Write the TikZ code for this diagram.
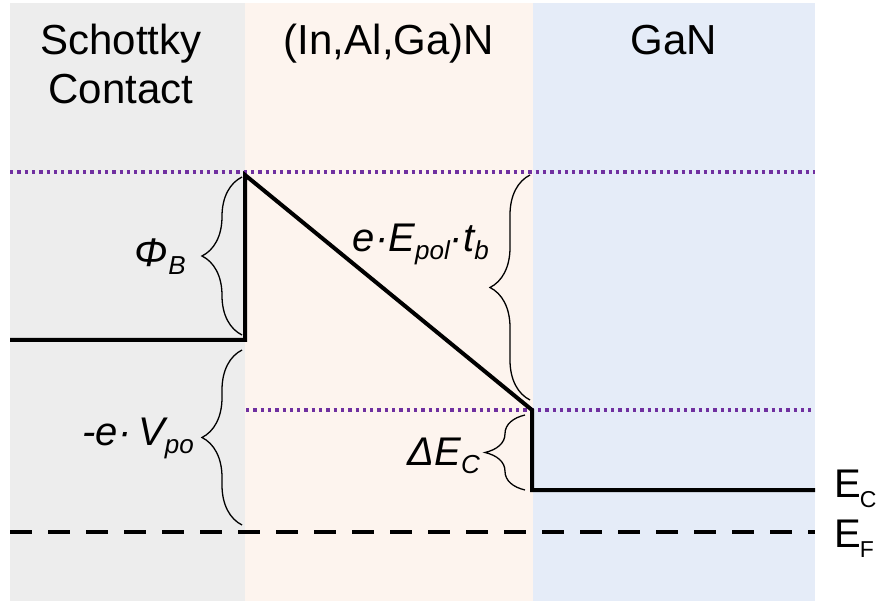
\documentclass[tikz,border=0pt]{standalone}
\usepackage{fontspec}
\setmainfont{Liberation Sans}
\usetikzlibrary{decorations.pathreplacing}
\definecolor{greyc}{HTML}{EDEDED}
\definecolor{peachc}{HTML}{FDF4EE}
\definecolor{bluec}{HTML}{E5ECF8}
\definecolor{purplec}{HTML}{7030A0}
\newcommand\lsub[1]{\raisebox{-0.2em}{\fontsize{26}{26}\selectfont #1}}
\newcommand\esub[1]{\raisebox{-0.26em}{\fontsize{23}{23}\selectfont #1}}
\begin{document}
\begin{tikzpicture}[x=1pt,y=-1pt,
  band/.style={line width=4pt, line join=miter, line cap=butt},
  level/.style={draw=purplec, line width=3.3pt, dash pattern=on 3.3pt off 4pt},
  brc/.style={draw, line width=1.3pt, decorate, decoration={brace, amplitude=40pt, aspect=0.5}},
  lbl/.style={font=\fontsize{40}{40}\selectfont\itshape, inner sep=0pt, anchor=base east},
  head/.style={font=\fontsize{42}{42}\selectfont, inner sep=0pt, anchor=base},
  elbl/.style={font=\fontsize{40}{40}\selectfont, inner sep=0pt, anchor=base west}]
\useasboundingbox (0,0) rectangle (878,601);
% panels
\fill[greyc] (10,3) rectangle (245,601);
\fill[peachc] (245,3) rectangle (533,601);
\fill[bluec] (533,3) rectangle (815,601);
% headers
\node[head] (h1) at (121,55) {Schottky};
\node[head] (h1b) at (121,104) {Contact};
\node[head] (h2) at (389,55) {(In,Al,Ga)N};
\node[head] (h3) at (674,55) {GaN};
% levels
\draw[level] (10,172) -- (815,172);
\draw[level] (246,410) -- (815,410);
% band edge
\coordinate (a) at (10,340);
\coordinate (b) at (245,340);
\coordinate (c) at (245,175);
\coordinate (d) at (532,410);
\coordinate (e) at (532,490);
\coordinate (f) at (815,490);
\draw[band] (a) -- (b) -- (c) -- (d) -- (e) -- (f);
% Fermi level
\draw[line width=4pt, dash pattern=on 22pt off 16pt] (10,532) -- (815,532);
% braces
\draw[brc] (242,335) -- (242,177);
\draw[brc] (242,525) -- (242,350);
\draw[brc] (530,400) -- (530,175);
\draw[brc] (525,490) -- (525,415);
% labels
\node[lbl] (phib) at (186,267) {Φ\lsub{B}};
\node[lbl] (epol) at (489,252) {e·E\lsub{pol}·t\lsub{b}};
\node[lbl] (vpo) at (194,445) {-e·\,V\lsub{po}};
\node[lbl] (dec) at (480,465) {ΔE\lsub{C}};
\node[elbl] (ec) at (834,497) {E\kern-1pt\esub{C}};
\node[elbl] (ef) at (834,547) {E\kern-1pt\esub{F}};
\end{tikzpicture}
\end{document}
